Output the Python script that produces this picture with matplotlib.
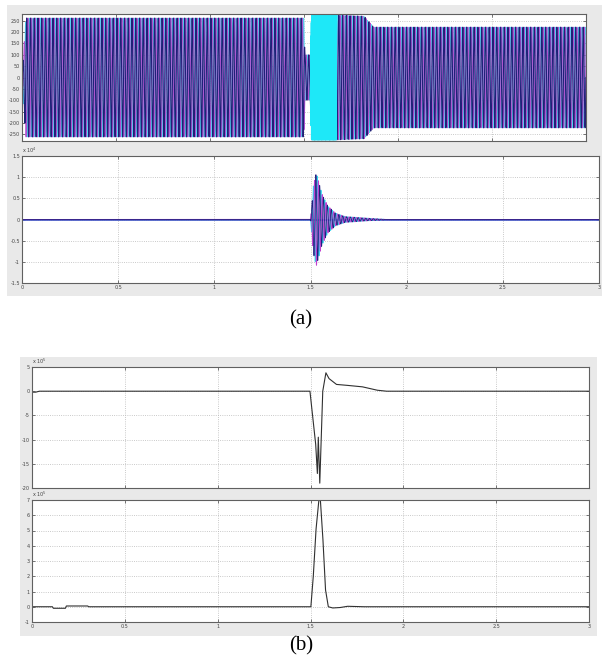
import matplotlib
matplotlib.use('Agg')
import matplotlib.pyplot as plt
from matplotlib.patches import Rectangle
import numpy as np

# ---------------- data ----------------
# (a) top: three phase voltage, amplitude envelope keypoints (time s, volts)
V_ENV_T = [0.0, 0.02, 1.500, 1.505, 1.533, 1.540, 1.670, 1.820, 1.870, 3.0]
V_ENV_A = [0.0, 262, 262, 100, 100, 275, 275, 270, 222, 222]
V_FREQ = 50.0
CYAN_HF_WINDOW = [1.536, 1.672]   # cyan trace turns into a solid block here
CYAN_HF_FREQ = 420.0

# (a) bottom: fault current burst envelope keypoints (time s, x1e4)
I_ENV_T = [0.0, 1.500, 1.515, 1.530, 1.560, 1.590, 1.630, 1.680, 1.800, 1.900, 3.0]
I_ENV_A = [0.0, 0.0, 0.80, 1.10, 0.60, 0.32, 0.15, 0.07, 0.03, 0.0, 0.0]

# (b) top trace (time s, value x1e5)
B1_T = [0.0, 0.02, 0.04, 1.497, 1.528, 1.537, 1.542, 1.550, 1.566, 1.583,
        1.600, 1.640, 1.700, 1.780, 1.860, 1.910, 3.0]
B1_Y = [-0.2, -0.2, 0.0, 0.0, -11.0, -17.0, -9.5, -19.0, 0.0, 3.8,
        2.6, 1.4, 1.2, 0.9, 0.2, 0.0, 0.0]

# (b) bottom trace (time s, value x1e5)
B2_T = [0.0, 0.11, 0.115, 0.18, 0.185, 0.30, 0.305, 1.502, 1.515, 1.530,
        1.550, 1.567, 1.581, 1.596, 1.62, 1.66, 1.70, 1.79, 3.0]
B2_Y = [0.0, 0.0, -0.1, -0.1, 0.05, 0.05, 0.0, 0.0, 2.0, 5.1,
        7.6, 4.4, 1.1, 0.0, -0.08, -0.05, 0.03, 0.0, 0.0]

A1_YTICKS = [-250, -200, -150, -100, -50, 0, 50, 100, 150, 200, 250]
A2_YTICKS = [-1.5, -1, -0.5, 0, 0.5, 1, 1.5]
B1_YTICKS = [-20, -15, -10, -5, 0, 5]
B2_YTICKS = [-1, 0, 1, 2, 3, 4, 5, 6, 7]
X_TICKS = [0, 0.5, 1, 1.5, 2, 2.5, 3]
X_LABELS = ['0', '0.5', '1', '1.5', '2', '2.5', '3']

# ---------------- layout helpers ----------------
W, H = 602, 660
fig = plt.figure(figsize=(W / 100, H / 100), dpi=100)
fig.patch.set_facecolor('white')


def box(x0, y0, x1, y1):
    return [x0 / W, 1 - y1 / H, (x1 - x0) / W, (y1 - y0) / H]


def gray_panel(x0, y0, x1, y1):
    fig.patches.append(Rectangle((x0 / W, 1 - y1 / H), (x1 - x0) / W, (y1 - y0) / H,
                                 transform=fig.transFigure, facecolor='#e9e9e9',
                                 edgecolor='none', zorder=-10))


def style(ax, yticks, xlim, ylim, xlabels=False):
    ax.set_xlim(*xlim)
    ax.set_ylim(*ylim)
    ax.set_xticks(X_TICKS)
    ax.set_yticks(yticks)
    ax.set_yticklabels([('%g' % v) for v in yticks])
    if xlabels:
        ax.set_xticklabels(X_LABELS)
    else:
        ax.set_xticklabels([])
    ax.tick_params(direction='in', length=2.5, width=0.5, labelsize=3.5,
                   colors='#444444', top=True, right=True, pad=1.5)
    ax.grid(True, linestyle=':', color='#b8b8b8', linewidth=0.6)
    ax.set_axisbelow(True)
    for s in ax.spines.values():
        s.set_color('#606060')
        s.set_linewidth(0.8)


gray_panel(7, 5, 602, 296)
gray_panel(20, 357, 597, 636)

# ---------------- (a) top ----------------
t = np.linspace(0, 3.0, 60001)
env_v = np.interp(t, V_ENV_T, V_ENV_A)
hf = (t >= CYAN_HF_WINDOW[0]) & (t <= CYAN_HF_WINDOW[1])

va = env_v * np.sin(2 * np.pi * V_FREQ * t)
vb = env_v * np.sin(2 * np.pi * V_FREQ * t - 2 * np.pi / 3)
vc = env_v * np.sin(2 * np.pi * V_FREQ * t + 2 * np.pi / 3)
vc_hf = env_v[hf] * np.sin(2 * np.pi * CYAN_HF_FREQ * t[hf])

ax1 = fig.add_axes(box(22, 14, 586, 141))
ax1.plot(t, vc, color='#50d8f0', lw=0.6)
ax1.plot(t, vb, color='#b050d0', lw=0.7)
ax1.plot(t, va, color='#202078', lw=0.8)
ax1.plot(t[hf], vc_hf, color='#1ee8f8', lw=0.8)
style(ax1, A1_YTICKS, (0, 564 / 193.3), (-280, 280))

# ---------------- (a) bottom ----------------
env_i = np.interp(t, I_ENV_T, I_ENV_A)
ia = env_i * np.sin(2 * np.pi * V_FREQ * (t - 1.5) + 1.2)
ib = env_i * np.sin(2 * np.pi * V_FREQ * (t - 1.5) + 1.2 - 2 * np.pi / 3)
ic = env_i * np.sin(2 * np.pi * V_FREQ * (t - 1.5) + 1.2 + 2 * np.pi / 3)

ax2 = fig.add_axes(box(22, 156, 599, 283))
ax2.plot(t, ic, color='#30d8f0', lw=0.7)
ax2.plot(t, ia, color='#c040d0', lw=0.7)
ax2.plot(t, ib, color='#202080', lw=0.6)
ax2.axhline(0, color='#5060c8', lw=1.3, zorder=1.5)
style(ax2, A2_YTICKS, (0, 3), (-1.5, 1.5), xlabels=True)
ax2.text(0.0, 1.01, r'x 10$^4$', transform=ax2.transAxes, fontsize=3.5,
         color='#444444', va='bottom', ha='left')

fig.text(301 / W, 1 - 320 / H, '(a)', ha='center', va='center',
         fontsize=15, family='Liberation Serif')

# ---------------- (b) top ----------------
ax3 = fig.add_axes(box(32, 367, 589, 488))
ax3.plot(B1_T, B1_Y, color='#303030', lw=0.8)
style(ax3, B1_YTICKS, (0, 3), (-20, 5))
ax3.text(0.0, 1.01, r'x 10$^5$', transform=ax3.transAxes, fontsize=3.5,
         color='#444444', va='bottom', ha='left')

# ---------------- (b) bottom ----------------
ax4 = fig.add_axes(box(32, 500, 589, 622))
ax4.plot(B2_T, B2_Y, color='#303030', lw=0.8)
style(ax4, B2_YTICKS, (0, 3), (-1, 7), xlabels=True)
ax4.text(0.0, 1.01, r'x 10$^5$', transform=ax4.transAxes, fontsize=3.5,
         color='#444444', va='bottom', ha='left')

fig.text(301 / W, 1 - 646 / H, '(b)', ha='center', va='center',
         fontsize=15, family='Liberation Serif')

fig.savefig('out.png', dpi=100)
